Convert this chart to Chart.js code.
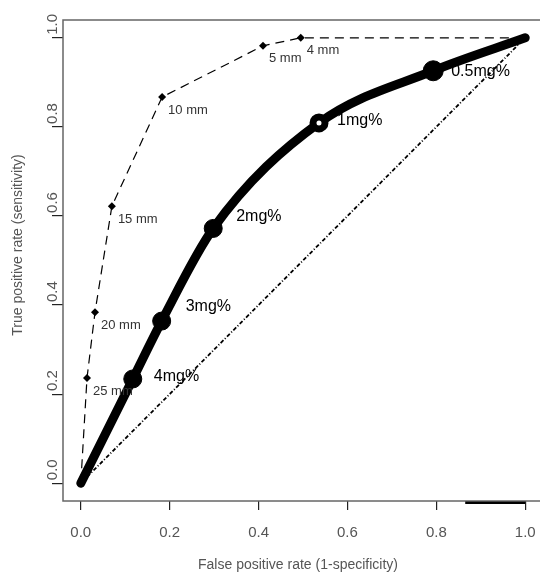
<!DOCTYPE html>
<html>
<head>
<meta charset="utf-8">
<script src="https://cdn.jsdelivr.net/npm/chart.js@4.4.1/dist/chart.umd.min.js"></script>
<style>
  html, body { margin: 0; padding: 0; background: #fff; overflow: hidden; }
  canvas { display: block; }
</style>
</head>
<body>
<canvas id="rocChart" width="547" height="574"></canvas>
<script>
// tick values
const xTicks = [0, 0.2, 0.4, 0.6, 0.8, 1.0];
const yTicks = [0, 0.2, 0.4, 0.6, 0.8, 1.0];

// skin test (mm) operating points
const mmFpr = [0, 0.014, 0.032, 0.07, 0.183, 0.41, 0.495, 1];
const mmTpr = [0, 0.236, 0.384, 0.622, 0.867, 0.982, 1.0, 1];
const mmLabels = ["", "25 mm", "20 mm", "15 mm", "10 mm", "5 mm", "4 mm", ""];

// mg% operating points
const mgFpr = [0, 0.117, 0.182, 0.298, 0.536, 0.793, 1];
const mgTpr = [0, 0.234, 0.364, 0.572, 0.809, 0.926, 1];
const mgLabels = ["", "4mg%", "3mg%", "2mg%", "1mg%", "0.5mg%", ""];

// chance diagonal
const chanceFpr = [0, 1];
const chanceTpr = [0, 1];

// odd dark stroke under the bottom axis
const markFpr = [0.865, 1.0];
const markTpr = [-0.044, -0.044];

const toXY = (xs, ys) => xs.map((v, i) => ({ x: v, y: ys[i] }));

// label offsets in px from the point (style only)
const mmOffset = [6, 13];
const mgOffsets = [null, [21, -2], [24, -14], [23, -12], [18, -2], [18, 1], null];

const rocDecor = {
  id: "rocDecor",
  beforeDatasetsDraw(chart) {
    const { ctx, chartArea: a } = chart;
    ctx.save();
    ctx.strokeStyle = "#666";
    ctx.lineWidth = 1.5;
    ctx.strokeRect(a.left, a.top, a.right - a.left, a.bottom - a.top);
    ctx.restore();
  },
  afterDraw(chart) {
    const { ctx, scales } = chart;
    const y = scales.y;
    ctx.save();
    // rotated y tick labels
    ctx.fillStyle = "#555";
    ctx.font = '15px "Liberation Sans", Arial, sans-serif';
    ctx.textAlign = "left";
    ctx.textBaseline = "middle";
    yTicks.forEach((v) => {
      ctx.save();
      ctx.translate(53, y.getPixelForValue(v) - 3);
      ctx.rotate(-Math.PI / 2);
      ctx.fillText(v.toFixed(1), 0, 0);
      ctx.restore();
    });

    // axis titles
    ctx.font = '14px "Liberation Sans", Arial, sans-serif';
    ctx.textAlign = "center";
    ctx.fillText("False positive rate (1-specificity)", 298, 565);
    ctx.save();
    ctx.translate(18, 245);
    ctx.rotate(-Math.PI / 2);
    ctx.fillText("True positive rate (sensitivity)", 0, 0);
    ctx.restore();

    // point labels
    ctx.textAlign = "left";
    const mmMeta = chart.getDatasetMeta(1);
    ctx.font = '13px "Liberation Sans", Arial, sans-serif';
    ctx.fillStyle = "#333";
    mmLabels.forEach((t, i) => {
      if (!t) return;
      const p = mmMeta.data[i];
      ctx.fillText(t, p.x + mmOffset[0], p.y + mmOffset[1]);
    });
    const mgMeta = chart.getDatasetMeta(0);
    ctx.font = '16px "Liberation Sans", Arial, sans-serif';
    ctx.fillStyle = "#000";
    mgLabels.forEach((t, i) => {
      if (!t) return;
      const p = mgMeta.data[i];
      ctx.fillText(t, p.x + mgOffsets[i][0], p.y + mgOffsets[i][1]);
    });
    ctx.restore();
  },
};

const ctx = document.getElementById("rocChart");
new Chart(ctx, {
  type: "scatter",
  data: {
    datasets: [
      {
        label: "mg%",
        data: toXY(mgFpr, mgTpr),
        showLine: true,
        order: 1,
        borderColor: "#000",
        borderWidth: 9,
        borderCapStyle: "round",
        borderJoinStyle: "round",
        cubicInterpolationMode: "monotone",
        pointRadius: [0, 9, 9, 9, 6, 10, 0],
        pointBorderWidth: [0, 1, 1, 1, 7, 1, 0],
        pointBackgroundColor: ["#000", "#000", "#000", "#000", "#fff", "#000", "#000"],
        pointBorderColor: "#000",
      },
      {
        label: "mm",
        data: toXY(mmFpr, mmTpr),
        showLine: true,
        order: 2,
        borderColor: "#000",
        borderWidth: 1.2,
        borderDash: [9, 6],
        tension: 0,
        pointStyle: "rectRot",
        pointRadius: 4,
        pointBackgroundColor: "#000",
        pointBorderColor: "#000",
        pointBorderWidth: 0,
      },
      {
        label: "chance",
        data: toXY(chanceFpr, chanceTpr),
        showLine: true,
        order: 3,
        borderColor: "#000",
        borderWidth: 1.8,
        borderDash: [4, 2, 1, 2],
        pointRadius: 0,
      },
      {
        label: "mark",
        data: toXY(markFpr, markTpr),
        showLine: true,
        order: 4,
        clip: false,
        borderColor: "#000",
        borderWidth: 2.5,
        pointRadius: 0,
      },
    ],
  },
  options: {
    responsive: false,
    animation: false,
    layout: { padding: { top: 20, left: 0, right: 0, bottom: 0 } },
    plugins: { legend: { display: false }, tooltip: { enabled: false } },
    scales: {
      x: {
        type: "linear",
        min: -0.04,
        max: 1.04,
        afterBuildTicks: (s) => { s.ticks = xTicks.map((v) => ({ value: v })); },
        afterFit: (s) => { s.height = 73; s.paddingLeft = 0; s.paddingRight = 0; },
        border: { display: false },
        grid: { drawOnChartArea: false, drawTicks: true, tickLength: 9, color: "#222", lineWidth: 1.2 },
        ticks: {
          padding: 14,
          color: "#555",
          maxRotation: 0,
          font: { family: '"Liberation Sans", Arial, sans-serif', size: 15 },
          callback: (v) => Number(v).toFixed(1),
        },
      },
      y: {
        type: "linear",
        min: -0.04,
        max: 1.04,
        afterBuildTicks: (s) => { s.ticks = yTicks.map((v) => ({ value: v })); },
        afterFit: (s) => { s.width = 63; s.paddingTop = 0; s.paddingBottom = 0; },
        border: { display: false },
        grid: { drawOnChartArea: false, drawTicks: true, tickLength: 11, color: "#222", lineWidth: 1.2 },
        ticks: { display: false },
      },
    },
  },
  plugins: [rocDecor],
});
</script>
</body>
</html>
